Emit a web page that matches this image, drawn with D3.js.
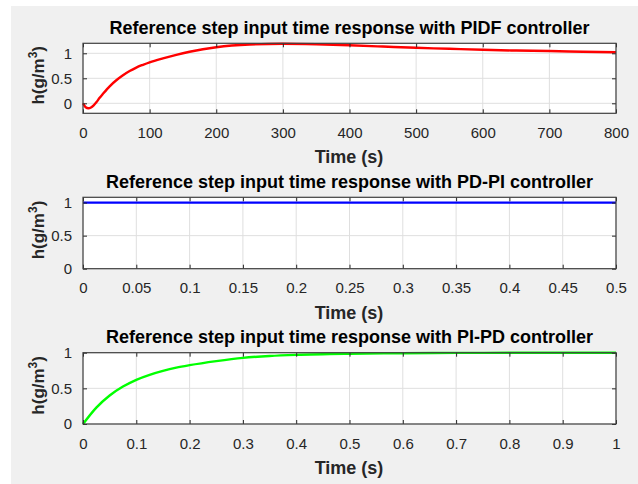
<!DOCTYPE html>
<html>
<head>
<meta charset="utf-8">
<script src="https://cdn.jsdelivr.net/npm/d3@7"></script>
<style>
  body { margin: 0; background: #fff; }
  svg { display: block; font-family: "Liberation Sans", Arial, sans-serif; }
</style>
</head>
<body>
<svg id="chart" width="638" height="484"></svg>
<script>

// PIDF response (t in s)
var pidfTime = [0, 4, 8, 12, 16, 20, 25, 30, 40, 50, 60, 70, 80, 90, 100, 120, 140, 160, 180, 200, 250, 300, 350, 400, 450, 500, 550, 600, 650, 700, 750, 800]
var pidfValue = [0, -0.08, -0.1, -0.085, -0.04, 0.02, 0.11, 0.19, 0.34, 0.46, 0.56, 0.645, 0.715, 0.77, 0.82, 0.9, 0.97, 1.03, 1.08, 1.12, 1.175, 1.19, 1.18, 1.16, 1.135, 1.11, 1.09, 1.07, 1.055, 1.045, 1.03, 1.02]

// PD-PI response
var pdpiTime = [0, 0.5]
var pdpiValue = [1, 1]

// PI-PD response
var pipdTime = [0, 0.025, 0.05, 0.075, 0.1, 0.125, 0.15, 0.175, 0.2, 0.25, 0.3, 0.35, 0.4, 0.5, 0.6, 0.7, 0.8, 0.9, 1.0]
var pipdValue = [0, 0.23, 0.4, 0.525, 0.62, 0.69, 0.745, 0.79, 0.825, 0.882, 0.928, 0.954, 0.97, 0.986, 0.993, 0.997, 0.999, 1, 1]

var titles = [
    "Reference step input time response with PIDF controller",
    "Reference step input time response with PD-PI controller",
    "Reference step input time response with PI-PD controller"
]

var xTicks1 = [0, 100, 200, 300, 400, 500, 600, 700, 800]
var xTicks2 = [0, 0.05, 0.1, 0.15, 0.2, 0.25, 0.3, 0.35, 0.4, 0.45, 0.5]
var xTicks3 = [0, 0.1, 0.2, 0.3, 0.4, 0.5, 0.6, 0.7, 0.8, 0.9, 1]
var yTicks1 = [0, 0.5, 1]
var yTicks2 = [0, 0.5, 1]
var yTicks3 = [0, 0.5, 1]

var panels = [
    { title: titles[0], t: pidfTime, v: pidfValue, xd: [0, 800], yd: [-0.2, 1.2], xt: xTicks1, yt: yTicks1, color: "#ff0000", top: 43.3, bottom: 113.3 },
    { title: titles[1], t: pdpiTime, v: pdpiValue, xd: [0, 0.5], yd: [0, 1.08], xt: xTicks2, yt: yTicks2, color: "#0000ff", top: 197.3, bottom: 268.7 },
    { title: titles[2], t: pipdTime, v: pipdValue, xd: [0, 1], yd: [0, 1], xt: xTicks3, yt: yTicks3, color: "#00ff00", top: 352.7, bottom: 424 }
]

var left = 83, right = 616

var svg = d3.select("#chart")

// figure background
svg.append("rect")
    .attr("x", 11).attr("y", 6)
    .attr("width", 638 - 11).attr("height", 484 - 6)
    .attr("fill", "#f0f0f0")

var fmt = d3.format("~g")

panels.forEach(function(p) {

    var x = d3.scaleLinear().domain(p.xd).range([left, right])
    var y = d3.scaleLinear().domain(p.yd).range([p.bottom, p.top])

    var g = svg.append("g")

    g.append("rect")
        .attr("x", left).attr("y", p.top)
        .attr("width", right - left).attr("height", p.bottom - p.top)
        .attr("fill", "#fff")

    // grid
    g.selectAll(".gx").data(p.xt).enter().append("line")
        .attr("x1", d => x(d)).attr("x2", d => x(d))
        .attr("y1", p.top).attr("y2", p.bottom)
        .attr("stroke", "#dfdfdf").attr("stroke-width", 1)

    g.selectAll(".gy").data(p.yt).enter().append("line")
        .attr("x1", left).attr("x2", right)
        .attr("y1", d => y(d)).attr("y2", d => y(d))
        .attr("stroke", "#dfdfdf").attr("stroke-width", 1)

    // curve
    var line = d3.line()
        .x((d, i) => x(p.t[i]))
        .y(d => y(d))
        .curve(d3.curveMonotoneX)

    g.append("path")
        .datum(p.v)
        .attr("d", line)
        .attr("fill", "none")
        .attr("stroke", p.color)
        .attr("stroke-width", 2.4)

    // axes with inward ticks on all sides
    var axisStyle = function(sel) {
        sel.select(".domain").remove()
        sel.selectAll(".tick line").attr("stroke", "#262626")
        sel.selectAll(".tick text").attr("fill", "#262626").attr("font-size", 15)
            .attr("font-family", "\"Liberation Sans\", Arial, sans-serif")
    }

    g.append("g")
        .attr("transform", "translate(0," + p.bottom + ")")
        .call(d3.axisBottom(x).tickValues(p.xt).tickFormat(fmt).tickSizeInner(-4).tickPadding(14))
        .call(axisStyle)

    g.append("g")
        .attr("transform", "translate(0," + p.top + ")")
        .call(d3.axisTop(x).tickValues(p.xt).tickFormat("").tickSizeInner(-4))
        .call(axisStyle)

    g.append("g")
        .attr("transform", "translate(" + left + ",0)")
        .call(d3.axisLeft(y).tickValues(p.yt).tickFormat(fmt).tickSizeInner(-4).tickPadding(11))
        .call(axisStyle)

    g.append("g")
        .attr("transform", "translate(" + right + ",0)")
        .call(d3.axisRight(y).tickValues(p.yt).tickFormat("").tickSizeInner(-4))
        .call(axisStyle)

    // box
    g.append("rect")
        .attr("x", left).attr("y", p.top)
        .attr("width", right - left).attr("height", p.bottom - p.top)
        .attr("fill", "none")
        .attr("stroke", "#404040").attr("stroke-width", 1.2)

    // title
    g.append("text")
        .attr("x", (left + right) / 2).attr("y", p.top - 9.5)
        .attr("text-anchor", "middle")
        .attr("font-size", 18).attr("font-weight", "bold")
        .attr("fill", "#000")
        .text(p.title)

    // x label
    g.append("text")
        .attr("x", (left + right) / 2 - 0.5).attr("y", p.bottom + 50)
        .attr("text-anchor", "middle")
        .attr("font-size", 18).attr("font-weight", "bold")
        .attr("fill", "#262626")
        .text("Time (s)")

    // y label
    var yl = g.append("text")
        .attr("transform", "translate(44," + ((p.top + p.bottom) / 2 - 3) + ") rotate(-90)")
        .attr("text-anchor", "middle")
        .attr("font-size", 17).attr("font-weight", "bold")
        .attr("fill", "#262626")
    yl.append("tspan").text("h(g/m")
    yl.append("tspan").attr("font-size", 12).attr("dy", -7).text("3")
    yl.append("tspan").attr("dy", 7).text(")")

})

</script>
</body>
</html>
